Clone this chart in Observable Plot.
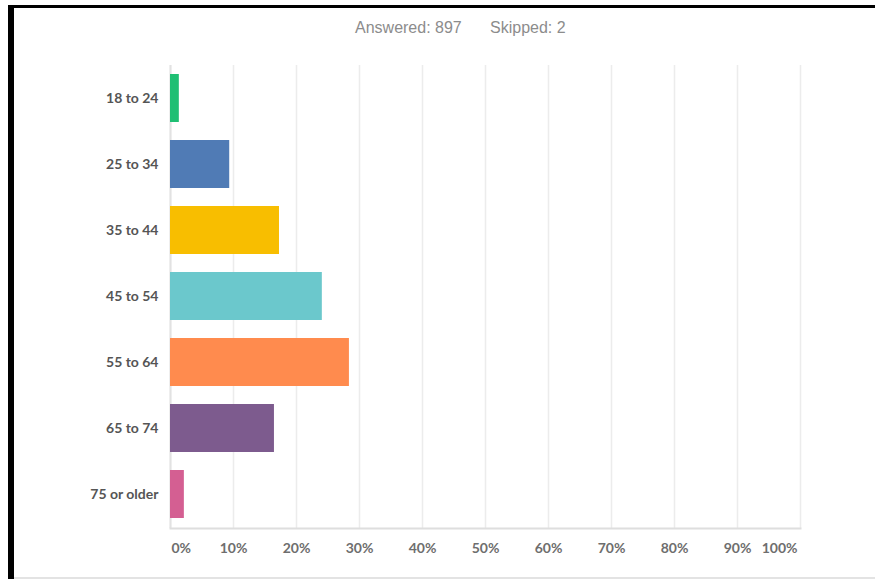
<!DOCTYPE html>
<html>
<head>
<meta charset="utf-8">
<script src="https://cdn.jsdelivr.net/npm/d3@7"></script>
<script src="https://cdn.jsdelivr.net/npm/@observablehq/plot@0.6"></script>
<style>
  html, body { margin: 0; padding: 0; background: #fff; }
  #page { position: relative; width: 875px; height: 579px; overflow: hidden; background: #fff; }
  #frame-left { position: absolute; left: 8px; top: 5px; width: 6px; height: 574px; background: #000; }
  #frame-top { position: absolute; left: 8px; top: 5px; width: 867px; height: 3px; background: #000; }
  #frame-bottom { position: absolute; left: 14px; top: 577px; width: 861px; height: 2px; background: #e3e3e3; }
  #header { position: absolute; left: 0; top: 0; width: 875px; height: 50px; font-family: "Liberation Sans", Arial, sans-serif; font-size: 16px; color: #8c8c8c; }
  #header span { position: absolute; top: 19px; white-space: nowrap; }
  #chart { position: absolute; left: 0; top: 50px; }
</style>
</head>
<body>
<div id="page">
  <div id="header"><span style="left:355px">Answered: 897</span><span style="left:490px">Skipped: 2</span></div>
  <div id="chart"></div>
  <div id="frame-left"></div>
  <div id="frame-top"></div>
  <div id="frame-bottom"></div>
</div>
<script>
const categories = ["18 to 24", "25 to 34", "35 to 44", "45 to 54", "55 to 64", "65 to 74", "75 or older"];
const values = [1.4, 9.4, 17.3, 24.1, 28.4, 16.5, 2.2];
const colors = ["#1fbf73", "#507bb5", "#f8be00", "#6bc8cc", "#ff8b4e", "#7d5b8e", "#d45f92"];
const xTicks = [0, 10, 20, 30, 40, 50, 60, 70, 80, 90, 100];
const xTickLabels = ["0%", "10%", "20%", "30%", "40%", "50%", "60%", "70%", "80%", "90%", "100%"];

const data = categories.map((c, i) => ({category: c, value: values[i]}));
const fmt = d => xTickLabels[xTicks.indexOf(d)];
const font = "Lato, 'Open Sans', sans-serif";

const chart = Plot.plot({
  width: 875,
  height: 529,
  marginLeft: 170,
  marginRight: 75,
  marginTop: 15,
  marginBottom: 51,
  style: {fontFamily: font, background: "transparent", color: "#6e6e6e"},
  x: {domain: [0, 100], axis: null},
  y: {domain: categories, paddingInner: 0.27, paddingOuter: 0.12, axis: null},
  color: {domain: categories, range: colors},
  marks: [
    Plot.gridX(xTicks, {stroke: "#ececec", strokeOpacity: 1, strokeWidth: 1.5}),
    Plot.ruleX([0], {stroke: "#e2e2e2", strokeWidth: 2}),
    Plot.frame({anchor: "bottom", stroke: "#dedede", strokeWidth: 2}),
    Plot.barX(data, {x: "value", y: "category", fill: "category"}),
    Plot.axisY({tickSize: 0, tickPadding: 12, fontSize: 14, fontWeight: "bold", fill: "#555", label: null}),
    Plot.axisX([0], {tickSize: 0, tickPadding: 15, textAnchor: "start", dx: 1, tickFormat: fmt, fontSize: 14, fontWeight: "bold", label: null}),
    Plot.axisX(xTicks.slice(1, -1), {tickSize: 0, tickPadding: 15, tickFormat: fmt, fontSize: 14, fontWeight: "bold", label: null}),
    Plot.axisX([100], {tickSize: 0, tickPadding: 15, textAnchor: "end", dx: -3, tickFormat: fmt, fontSize: 14, fontWeight: "bold", label: null})
  ]
});
document.getElementById("chart").appendChild(chart);
</script>
</body>
</html>
